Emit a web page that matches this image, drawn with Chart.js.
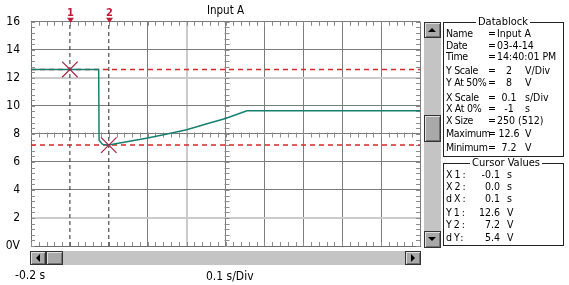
<!DOCTYPE html>
<html>
<head>
<meta charset="utf-8">
<script src="https://cdn.jsdelivr.net/npm/chart.js@4.4.1/dist/chart.umd.min.js"></script>
<style>
    body { margin: 0; background: #fff; }
    #wrap { position: relative; width: 569px; height: 285px; overflow: hidden; background: #fff;
        font-family: "DejaVu Sans Condensed", "Liberation Sans", Arial, sans-serif; }
    #wrap canvas { position: absolute; left: 0; top: 0; }
    .t { position: absolute; white-space: nowrap; font-size: 10.5px; line-height: 12px; color: #000; }
    .box { position: absolute; border: 1px solid #222; background: #fff; }
    .cap { position: absolute; background: #fff; padding: 0 2px; font-size: 11px; line-height: 12px; white-space: nowrap; }
    .track { position: absolute; background: #c4c4c4; }
    .btn { position: absolute; background: #a9a9a9; border: 1px solid #333; box-sizing: border-box;
        box-shadow: inset 1px 1px 0 #e0e0e0, inset -1px -1px 0 #707070; }
    .arr { position: absolute; width: 0; height: 0; }
</style>
</head>
<body>
<div id="wrap">
    <canvas id="myChart" width="569" height="285"></canvas>
</div>
<script>
// trace (time in s, level in V)
const traceTime = [-0.2, -0.026, -0.025, -0.016, 0.0, 0.05, 0.1, 0.15, 0.2, 0.25, 0.3, 0.355, 0.8];
const traceVolts = [12.6, 12.6, 7.55, 7.25, 7.2, 7.45, 7.7, 8.0, 8.3, 8.7, 9.1, 9.65, 9.65];

// cursors
const cursorNames = ["1", "2"];
const cursorTimes = [-0.1, 0.0];
const cursorVolts = [12.6, 7.2];

const xRange = [-0.2, 0.8];
const xStep = 0.1;
const yRange = [0, 16];
const yStep = 2;

const datablockRows = [
    ["Name", "Input A", ""],
    ["Date", "03-4-14", ""],
    ["Time", "14:40:01 PM", ""],
    ["Y Scale", "2", "V/Div"],
    ["Y At 50%", "8", "V"],
    ["X Scale", "0.1", "s/Div"],
    ["X At 0%", "-1", "s"],
    ["X Size", "250 (512)", ""],
    ["Maximum", "12.6", "V"],
    ["Minimum", "7.2", "V"],
];
const datablockY = [33, 45, 56, 70, 82, 97, 108, 120, 133, 147];

const cursorRows = [
    ["X1:", "-0.1", "s"],
    ["X2:", "0.0", "s"],
    ["dX:", "0.1", "s"],
    ["Y1:", "12.6", "V"],
    ["Y2:", "7.2", "V"],
    ["dY:", "5.4", "V"],
];
const cursorRowY = [174, 186, 198, 212, 224, 237];

const FONT = '"DejaVu Sans Condensed", "Liberation Sans", Arial, sans-serif';

const near = (a, b) => Math.abs(a - b) < 1e-6;
const pts = (xs, ys) => xs.map((x, i) => ({x: x, y: ys[i]}));

// small graticule ticks on the edges and on the centre lines
const graticule = {
    id: "graticule",
    beforeDatasetsDraw(chart) {
        const {ctx, chartArea: a, scales: {x, y}} = chart;
        const xc = Math.round(x.getPixelForValue((xRange[0] + xRange[1]) / 2)) + 0.5;
        const yc = Math.round(y.getPixelForValue((yRange[0] + yRange[1]) / 2)) + 0.5;
        ctx.save();
        ctx.strokeStyle = "#8c8c8c";
        ctx.lineWidth = 1;
        ctx.beginPath();
        for (let i = 0; i <= 50; i++) {
            const px = Math.round(x.getPixelForValue(xRange[0] + i * xStep / 5)) + 0.5;
            ctx.moveTo(px, a.top); ctx.lineTo(px, a.top + 4);
            ctx.moveTo(px, a.bottom); ctx.lineTo(px, a.bottom - 4);
            ctx.moveTo(px, yc - 2); ctx.lineTo(px, yc + 3);
        }
        for (let i = 0; i <= 40; i++) {
            const py = Math.round(y.getPixelForValue(yRange[0] + i * yStep / 5)) + 0.5;
            ctx.moveTo(a.left, py); ctx.lineTo(a.left + 4, py);
            ctx.moveTo(a.right, py); ctx.lineTo(a.right - 4, py);
            ctx.moveTo(xc - 2, py); ctx.lineTo(xc + 3, py);
        }
        ctx.stroke();
        ctx.restore();
    }
};

// numbered flags above the cursors
const cursorFlags = {
    id: "cursorFlags",
    afterDraw(chart) {
        const {ctx, chartArea: a, scales: {x}} = chart;
        ctx.save();
        ctx.fillStyle = "#c41a3a";
        ctx.font = "bold 11px " + FONT;
        ctx.textAlign = "center";
        ctx.textBaseline = "middle";
        cursorTimes.forEach((t, i) => {
            const px = Math.round(x.getPixelForValue(t)) + 0.5;
            ctx.fillText(cursorNames[i], px, a.top - 9);
            ctx.beginPath();
            ctx.moveTo(px - 3.5, a.top - 4);
            ctx.lineTo(px + 3.5, a.top - 4);
            ctx.lineTo(px, a.top + 1);
            ctx.closePath();
            ctx.fill();
        });
        ctx.restore();
    }
};

const datasets = [
    {
        // cursor crosses
        data: pts(cursorTimes, cursorVolts),
        showLine: false,
        pointStyle: "crossRot",
        pointRadius: 11,
        pointBorderColor: "#a82444",
        pointBorderWidth: 1.2,
    },
    {
        data: pts(traceTime, traceVolts),
        borderColor: "#17806f",
        borderWidth: 1.5,
        pointRadius: 0,
        tension: 0,
    },
];
cursorVolts.forEach(v => datasets.push({
    data: pts(xRange, [v, v]),
    borderColor: "#d42a2a",
    borderDash: [5, 4],
    borderWidth: 1.5,
    pointRadius: 0,
}));
cursorTimes.forEach(t => datasets.push({
    data: pts([t, t], yRange),
    borderColor: "#2a2a2a",
    borderDash: [4, 3],
    borderWidth: 1,
    pointRadius: 0,
}));

let ctx = document.getElementById("myChart").getContext("2d");

let myChart = new Chart(ctx, {
    type: "line",
    data: {datasets: datasets},
    plugins: [graticule, cursorFlags],
    options: {
        responsive: false,
        animation: false,
        layout: {padding: {left: 0, top: 0, right: 149, bottom: 39}},
        plugins: {
            legend: {display: false},
            tooltip: {enabled: false},
            title: {
                display: true,
                text: "Input A",
                fullSize: false,
                color: "#000",
                font: {family: FONT, size: 11.5, weight: "normal"},
                padding: {top: 4, bottom: 4},
            },
        },
        scales: {
            x: {
                type: "linear",
                min: xRange[0],
                max: xRange[1],
                ticks: {display: false, stepSize: xStep},
                grid: {
                    drawTicks: false,
                    color: c => (near(c.tick.value, cursorTimes[0]) || near(c.tick.value, cursorTimes[1])) ? "rgba(0,0,0,0)"
                        : near(c.tick.value, 0.2) ? "#cbcbcb" : "#7c7c7c",
                    lineWidth: c => near(c.tick.value, 0.2) ? 2 : 1,
                },
                border: {color: "#6c6c6c"},
                afterFit: s => { s.height = 0; },
            },
            y: {
                min: yRange[0],
                max: yRange[1],
                ticks: {
                    stepSize: yStep,
                    padding: 11,
                    color: "#000",
                    font: {family: FONT, size: 12},
                    callback: v => v === 0 ? "0V" : v,
                },
                grid: {
                    drawTicks: false,
                    color: c => (c.tick.value === 2 || c.tick.value === 12) ? "#cbcbcb" : "#7c7c7c",
                    lineWidth: c => (c.tick.value === 2 || c.tick.value === 12) ? 2 : 1,
                },
                border: {color: "#6c6c6c"},
                afterFit: s => { s.width = 31; },
            },
        },
    },
});

// --- window furniture around the chart ---
const wrap = document.getElementById("wrap");
function add(cls, css, text) {
    const d = document.createElement("div");
    d.className = cls;
    Object.assign(d.style, css);
    if (text !== undefined) d.textContent = text;
    wrap.appendChild(d);
    return d;
}
function arrow(dir, cx, cy) {
    const css = {left: cx + "px", top: cy + "px"};
    if (dir === "up") Object.assign(css, {borderLeft: "4px solid transparent", borderRight: "4px solid transparent", borderBottom: "4px solid #000", marginLeft: "-4px", marginTop: "-2px"});
    if (dir === "down") Object.assign(css, {borderLeft: "4px solid transparent", borderRight: "4px solid transparent", borderTop: "4px solid #000", marginLeft: "-4px", marginTop: "-2px"});
    if (dir === "left") Object.assign(css, {borderTop: "4px solid transparent", borderBottom: "4px solid transparent", borderRight: "4px solid #000", marginLeft: "-2px", marginTop: "-4px"});
    if (dir === "right") Object.assign(css, {borderTop: "4px solid transparent", borderBottom: "4px solid transparent", borderLeft: "4px solid #000", marginLeft: "-2px", marginTop: "-4px"});
    add("arr", css);
}

// vertical scrollbar
add("track", {left: "424px", top: "22px", width: "17px", height: "226px"});
add("btn", {left: "424px", top: "22px", width: "17px", height: "16px"});
arrow("up", 432, 30);
add("btn", {left: "424px", top: "115px", width: "17px", height: "27px"});
add("btn", {left: "424px", top: "231px", width: "17px", height: "17px"});
arrow("down", 432, 239);

// horizontal scrollbar
add("track", {left: "30px", top: "251px", width: "391px", height: "14px"});
add("btn", {left: "30px", top: "251px", width: "16px", height: "14px"});
arrow("left", 38, 258);
add("btn", {left: "46px", top: "251px", width: "17px", height: "14px"});
add("btn", {left: "405px", top: "251px", width: "16px", height: "14px"});
arrow("right", 413, 258);

add("t", {left: "15px", top: "269px", fontSize: "12px"}, "-0.2 s");
add("t", {left: "206px", top: "270px", fontSize: "12px"}, "0.1 s/Div");

// Datablock panel
add("box", {left: "443px", top: "22px", width: "119px", height: "133px"});
add("cap", {left: "476px", top: "16px"}, "Datablock");
datablockRows.forEach((r, i) => {
    const top = (datablockY[i] - 6) + "px";
    add("t", {left: "446px", top: top, letterSpacing: "-0.3px"}, r[0]);
    add("t", {left: "488px", top: top}, "=");
    if (r[2] === "") {
        add("t", {left: "497px", top: top}, r[1]);
    } else {
        add("t", {left: "495px", top: top, width: "28px", textAlign: "center"}, r[1]);
        add("t", {left: "525px", top: top}, r[2]);
    }
});

// Cursor Values panel
add("box", {left: "443px", top: "163px", width: "119px", height: "81px"});
add("cap", {left: "470px", top: "157px"}, "Cursor Values");
cursorRows.forEach((r, i) => {
    const top = (cursorRowY[i] - 6) + "px";
    add("t", {left: "446px", top: top, letterSpacing: "2px"}, r[0]);
    add("t", {left: "470px", top: top, width: "30px", textAlign: "right"}, r[1]);
    add("t", {left: "507px", top: top}, r[2]);
});
</script>
</body>
</html>
